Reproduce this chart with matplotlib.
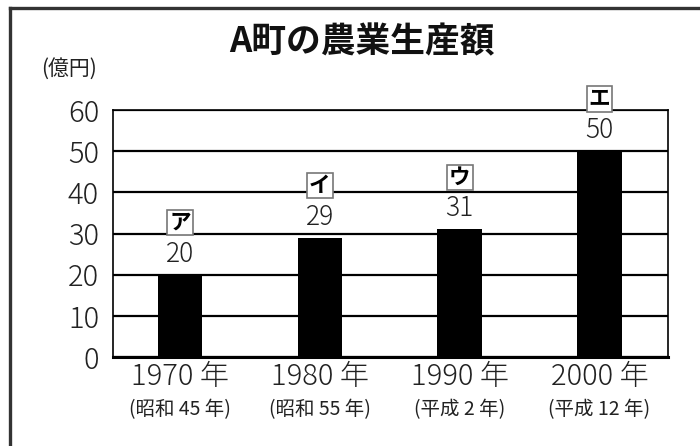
import matplotlib
matplotlib.use("Agg")
import matplotlib.pyplot as plt
from matplotlib.lines import Line2D
from matplotlib.transforms import blended_transform_factory

plt.rcParams['font.family'] = ['Noto Sans CJK JP', 'DejaVu Sans']

title = "A町の農業生産額"
unit_label = "(億円)"
years = ["1970 年", "1980 年", "1990 年", "2000 年"]
eras = ["(昭和 45 年)", "(昭和 55 年)", "(平成 2 年)", "(平成 12 年)"]
marks = ["ア", "イ", "ウ", "エ"]
values = [20, 29, 31, 50]
yticks = [0, 10, 20, 30, 40, 50, 60]

W, H = 700, 446
fig = plt.figure(figsize=(7, 4.46), dpi=100)
fig.patch.set_facecolor("white")

# outer frame (left and top visible)
fig.add_artist(Line2D([10 / W, 10 / W], [0, 1 - 8 / H], transform=fig.transFigure,
                      color="#333333", lw=2.4))
fig.add_artist(Line2D([10 / W, 1], [1 - 8 / H, 1 - 8 / H], transform=fig.transFigure,
                      color="#333333", lw=2.4))

ax = fig.add_axes([113 / W, 1 - 357 / H, 555 / W, 247 / H])
x = list(range(len(values)))
ax.bar(x, values, width=0.32, color="black", zorder=3)
ax.set_xlim(-0.48, 3.49)
ax.set_ylim(0, 60)
ax.set_yticks(yticks)
ax.set_yticklabels([str(v) for v in yticks], fontsize=21, color="#222222",
                   fontweight="light")
ax.yaxis.grid(True, color="black", lw=1.6, zorder=1)
ax.set_axisbelow(True)
ax.tick_params(axis="y", length=0, pad=10)
ax.tick_params(axis="x", length=0, pad=3)
ax.set_xticks(x)
ax.set_xticklabels(years, fontsize=21, color="#222222", fontweight="light")
for s in ["left", "right", "top"]:
    ax.spines[s].set_linewidth(1.2)
ax.spines["bottom"].set_linewidth(2.2)

trans = blended_transform_factory(ax.transData, ax.transAxes)
for xi, e in zip(x, eras):
    ax.text(xi, -0.215, e, transform=trans, ha="center", va="center",
            fontsize=14, color="#222222")

for xi, v, m in zip(x, values, marks):
    ax.annotate(str(v), (xi, v), xytext=(0, 5), textcoords="offset points",
                ha="center", va="bottom", fontsize=19, color="#222222",
                fontweight="light")
    ax.annotate(m, (xi, v), xytext=(0, 30), textcoords="offset points",
                ha="center", va="bottom", fontsize=15.5, fontweight="bold", color="black",
                bbox=dict(boxstyle="square,pad=0.1", fc="white", ec="#777777", lw=1.2))

fig.text(362 / W, 1 - 42 / H, title, ha="center", va="center", fontsize=25,
         fontweight="bold", color="#111111")
fig.text(69 / W, 1 - 69 / H, unit_label, ha="center", va="center", fontsize=15,
         color="#222222")

fig.savefig("out.png", dpi=100)
